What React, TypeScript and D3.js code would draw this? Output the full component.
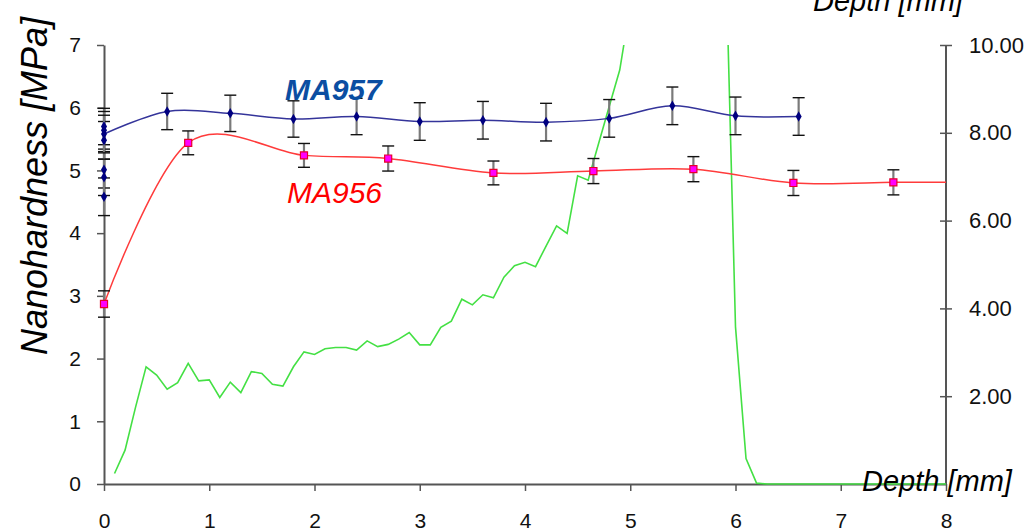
import React, { useEffect, useRef } from 'react';
import * as d3 from 'd3';

// MA957 (blue) – nanohardness vs depth, with error bars
const depth957 = [0, 0.6, 1.2, 1.8, 2.4, 3.0, 3.6, 4.2, 4.8, 5.4, 6.0, 6.6];
const hard957 = [5.58, 5.94, 5.91, 5.82, 5.86, 5.78, 5.80, 5.77, 5.83, 6.03, 5.87, 5.86];
const err957 = [0.3, 0.29, 0.29, 0.29, 0.29, 0.3, 0.3, 0.3, 0.3, 0.3, 0.3, 0.3];
// extra MA957 readings stacked at the surface (depth 0)
const surface957 = [5.70, 5.64, 5.48, 5.01, 4.89, 4.58];
const surfaceErr957 = [0.29, 0.3, 0.3, 0.29, 0.29, 0.3];

// MA956 (red)
const depth956 = [0, 0.8, 1.9, 2.7, 3.7, 4.65, 5.6, 6.55, 7.5];
const hard956 = [2.87, 5.44, 5.24, 5.19, 4.96, 4.99, 5.02, 4.80, 4.81];
const err956 = [0.21, 0.19, 0.19, 0.2, 0.19, 0.2, 0.2, 0.2, 0.2];
const tailDepth956 = 8;
const tailHard956 = 4.81;

// green profile on the secondary axis (0–10)
const greenX = [0.1, 0.2, 0.3, 0.4, 0.5, 0.6, 0.7, 0.8, 0.9, 1.0,
  1.1, 1.2, 1.3, 1.4, 1.5, 1.6, 1.7, 1.8, 1.9, 2.0,
  2.1, 2.2, 2.3, 2.4, 2.5, 2.6, 2.7, 2.8, 2.9, 3.0,
  3.1, 3.2, 3.3, 3.4, 3.5, 3.6, 3.7, 3.8, 3.9, 4.0,
  4.1, 4.2, 4.3, 4.4, 4.5, 4.6, 4.7, 4.8, 4.9, 5.0,
  5.9, 6.0, 6.1, 6.2, 6.3, 8.0];
const greenY = [0.24, 0.77, 1.75, 2.67, 2.48, 2.16, 2.31, 2.75, 2.35, 2.37,
  1.97, 2.32, 2.08, 2.56, 2.52, 2.27, 2.23, 2.67, 3.01, 2.95,
  3.08, 3.11, 3.11, 3.05, 3.26, 3.13, 3.18, 3.30, 3.45, 3.17,
  3.17, 3.57, 3.71, 4.21, 4.08, 4.31, 4.24, 4.71, 4.97, 5.05,
  4.95, 5.42, 5.88, 5.71, 7.02, 6.92, 7.76, 8.60, 9.43, 10.9,
  12.75, 3.58, 0.58, 0.02, 0, 0];

const xTicks = [0, 1, 2, 3, 4, 5, 6, 7, 8];
const leftTicks = [0, 1, 2, 3, 4, 5, 6, 7];
const rightTicks = [2, 4, 6, 8, 10];

const FONT = '"Liberation Sans", Arial, sans-serif';

const App = () => {
  const svgRef = useRef(null);

  useEffect(() => {
    const svg = d3.select(svgRef.current);
    svg.selectAll('*').remove();

    const x = d3.scaleLinear().domain([0, 8]).range([104, 946]);
    const yL = d3.scaleLinear().domain([0, 7]).range([484, 45]);
    const yR = d3.scaleLinear().domain([0, 10]).range([484, 45]);

    // clip only the top (values above 10 run off the plot)
    svg.append('defs').append('clipPath').attr('id', 'plot-clip')
      .append('rect')
      .attr('x', x(0) - 4).attr('y', yR(10))
      .attr('width', x(8) - x(0) + 8).attr('height', yR(0) - yR(10) + 6);

    // axes
    const axisColor = '#555';
    const styleAxis = (g) => {
      g.select('.domain').attr('stroke', axisColor).attr('stroke-width', 2);
      g.selectAll('.tick line').attr('stroke', axisColor).attr('stroke-width', 1.5);
      g.selectAll('.tick text')
        .attr('fill', '#111')
        .style('font-family', FONT)
        .style('font-size', '21px');
    };

    svg.append('g')
      .attr('transform', `translate(0,${yL(0)})`)
      .call(d3.axisBottom(x).tickValues(xTicks).tickFormat(d3.format('d')).tickSize(7).tickSizeOuter(0).tickPadding(22))
      .call(styleAxis);

    svg.append('g')
      .attr('transform', `translate(${x(0)},0)`)
      .call(d3.axisLeft(yL).tickValues(leftTicks).tickFormat(d3.format('d')).tickSize(7).tickSizeOuter(0).tickPadding(16))
      .call(styleAxis);

    const right = svg.append('g')
      .attr('transform', `translate(${x(8)},0)`)
      .call(d3.axisRight(yR).tickValues(rightTicks).tickFormat(d3.format('.2f')).tickSize(6).tickSizeOuter(0).tickPadding(17))
      .call(styleAxis);
    right.select('.domain').attr('d', `M0,${yR(0)}V${yR(10)}`);
    right.selectAll('.tick line').attr('x1', -6).attr('x2', 6);
    right.selectAll('.tick text').style('font-size', '22px');

    // green line (secondary axis), drawn over the axes like the original
    const greenData = greenX.map((d, i) => [d, greenY[i]]);
    svg.append('path')
      .datum(greenData)
      .attr('clip-path', 'url(#plot-clip)')
      .attr('fill', 'none')
      .attr('stroke', '#44e044')
      .attr('stroke-width', 1.6)
      .attr('d', d3.line().x(d => x(d[0])).y(d => yR(d[1])));

    const smooth = d3.line().x(d => x(d[0])).y(d => yL(d[1])).curve(d3.curveCardinal.tension(0));

    const errorBars = (pts, errs) => {
      const g = svg.append('g');
      pts.forEach((p, i) => {
        const cx = x(p[0]);
        const top = yL(p[1] + errs[i]);
        const bot = yL(p[1] - errs[i]);
        g.append('line').attr('x1', cx).attr('x2', cx).attr('y1', top).attr('y2', bot)
          .attr('stroke', '#7a7a7a').attr('stroke-width', 2.2);
        [top, bot].forEach(yy => {
          g.append('line').attr('x1', cx - 6).attr('x2', cx + 6).attr('y1', yy).attr('y2', yy)
            .attr('stroke', '#111').attr('stroke-width', 1.4);
        });
      });
    };

    // MA956
    const pts956 = depth956.map((d, i) => [d, hard956[i]]);
    svg.append('path')
      .datum([...pts956, [tailDepth956, tailHard956]])
      .attr('fill', 'none')
      .attr('stroke', '#ff3b3b')
      .attr('stroke-width', 1.5)
      .attr('d', smooth);
    errorBars(pts956, err956);
    svg.append('g').selectAll('path').data(pts956).enter().append('path')
      .attr('transform', d => `translate(${x(d[0])},${yL(d[1])})`)
      .attr('d', d3.symbol(d3.symbolSquare, 50))
      .attr('fill', '#ff00ff')
      .attr('stroke', '#e8002a')
      .attr('stroke-width', 1.2);

    // MA957
    const pts957 = depth957.map((d, i) => [d, hard957[i]]);
    const surf = surface957.map(v => [0, v]);
    svg.append('path')
      .datum(pts957)
      .attr('fill', 'none')
      .attr('stroke', '#34349a')
      .attr('stroke-width', 1.5)
      .attr('d', smooth);
    errorBars(surf, surfaceErr957);
    errorBars(pts957, err957);
    svg.append('g').selectAll('path').data([...pts957, ...surf]).enter().append('path')
      .attr('transform', d => `translate(${x(d[0])},${yL(d[1])})`)
      .attr('d', d3.symbol(d3.symbolDiamond, 32))
      .attr('fill', '#000080');

    // series labels
    svg.append('text')
      .attr('x', 285).attr('y', 100)
      .style('font-family', FONT).style('font-size', '30px')
      .style('font-style', 'italic').style('font-weight', 'bold')
      .attr('fill', '#0b4ea2')
      .text('MA957');
    svg.append('text')
      .attr('x', 287).attr('y', 203)
      .style('font-family', FONT).style('font-size', '30px')
      .style('font-style', 'italic')
      .attr('fill', '#ff0000')
      .text('MA956');

    // axis titles
    svg.append('text')
      .attr('transform', 'translate(47,186) rotate(-90)')
      .attr('text-anchor', 'middle')
      .style('font-family', FONT).style('font-size', '36px').style('font-style', 'italic')
      .attr('fill', '#000')
      .text('Nanohardness [MPa]');
    svg.append('text')
      .attr('x', 813).attr('y', 11)
      .style('font-family', FONT).style('font-size', '29px').style('font-style', 'italic')
      .attr('fill', '#000')
      .text('Depth [mm]');
    svg.append('text')
      .attr('x', 862).attr('y', 491)
      .style('font-family', FONT).style('font-size', '29px').style('font-style', 'italic')
      .attr('fill', '#000')
      .text('Depth [mm]');
  }, []);

  return (
    <div style={{ position: 'absolute', left: 0, top: 0 }}>
      <svg ref={svgRef} width={1027} height={532} style={{ display: 'block', background: '#fff' }} />
    </div>
  );
};

export default App;
